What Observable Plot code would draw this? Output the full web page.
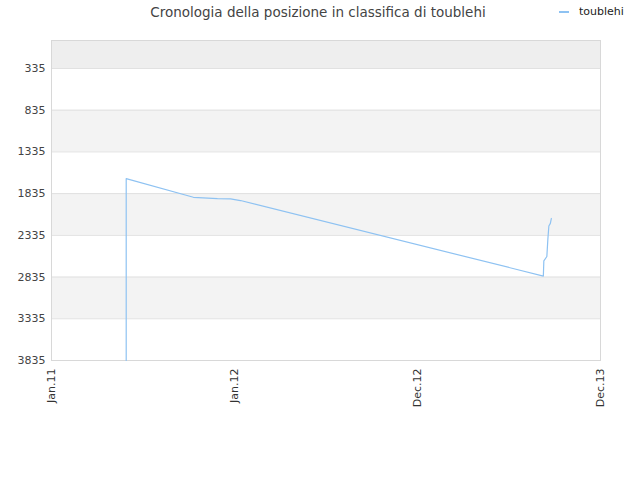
<!DOCTYPE html>
<html>
<head>
<meta charset="utf-8">
<script src="https://cdn.jsdelivr.net/npm/d3@7"></script>
<script src="https://cdn.jsdelivr.net/npm/@observablehq/plot@0.6"></script>
<style>
  body { margin: 0; background: #fff; font-family: "DejaVu Sans", sans-serif; }
  #wrap { position: relative; width: 640px; height: 480px; }
  #title { position: absolute; top: 4px; left: 0; width: 636px; text-align: center; font-size: 13.5px; color: #444; }
  #legend { position: absolute; top: 5px; left: 559px; font-size: 11px; color: #222; display: flex; align-items: center; }
  #legend span.sw { display: inline-block; width: 10px; height: 2px; background: #8ec2f2; margin-right: 10px; }
</style>
</head>
<body>
<div id="wrap">
  <div id="title">Cronologia della posizione in classifica di toublehi</div>
  <div id="legend"><span class="sw"></span>toublehi</div>
</div>
<script>
// Series: date and rank position
const dates = ["2011-05-30","2011-05-30","2011-10-11","2011-11-28","2011-12-24","2012-01-13","2013-09-08","2013-09-09","2013-09-15","2013-09-17","2013-09-19","2013-09-22","2013-09-24"];
const ranks = [3835, 1656, 1879, 1894, 1897, 1918, 2823, 2641, 2589, 2383, 2224, 2192, 2133];

// Axis ticks
const yTicks = [335, 835, 1335, 1835, 2335, 2835, 3335, 3835];
const xTickDates = ["2011-01-01","2012-01-01","2012-12-31","2013-12-31"];
const xTickLabels = ["Jan.11","Jan.12","Dec.12","Dec.13"];

// Background bands
const bandStarts = [0, 335, 835, 1335, 1835, 2335, 2835, 3335];
const bandEnds   = [335, 835, 1335, 1835, 2335, 2835, 3335, 3835];
const bandFills  = ["#eeeeee", "#ffffff", "#f3f3f3", "#ffffff", "#f3f3f3", "#ffffff", "#f3f3f3", "#ffffff"];

const data = dates.map((d, i) => ({date: new Date(d), rank: ranks[i]}));
const bands = bandStarts.map((s, i) => ({y1: s, y2: bandEnds[i], fill: bandFills[i]}));
const xt = xTickDates.map(d => new Date(d));
const labelOf = new Map(xt.map((d, i) => [+d, xTickLabels[i]]));

const chart = Plot.plot({
  width: 640,
  height: 480,
  marginLeft: 51,
  marginRight: 40,
  marginTop: 40,
  marginBottom: 120,
  style: {fontFamily: "DejaVu Sans, sans-serif", fontSize: "11px", color: "#333", background: "#fff"},
  x: {type: "utc", domain: [new Date("2011-01-01"), new Date("2013-12-31")]},
  y: {domain: [0, 3835], reverse: true},
  marks: [
    Plot.rectY(bands, {x1: () => new Date("2011-01-01"), x2: () => new Date("2013-12-31"), y1: "y1", y2: "y2", fill: "fill"}),
    Plot.ruleY(yTicks, {stroke: "#e0e0e0"}),
    Plot.frame({stroke: "#d8d8d8"}),
    Plot.axisY({ticks: yTicks, tickFormat: d => String(d), tickSize: 0, tickPadding: 6, label: null, fill: "#444"}),
    Plot.axisX({ticks: xt, tickFormat: d => labelOf.get(+d), tickRotate: -90, tickSize: 0, tickPadding: 8, label: null, fill: "#333"}),
    Plot.line(data, {x: "date", y: "rank", stroke: "#8ec2f2", strokeWidth: 1.2})
  ]
});
document.getElementById("wrap").prepend(chart);
chart.style.position = "absolute";
chart.style.left = "0";
chart.style.top = "0";
</script>
</body>
</html>
